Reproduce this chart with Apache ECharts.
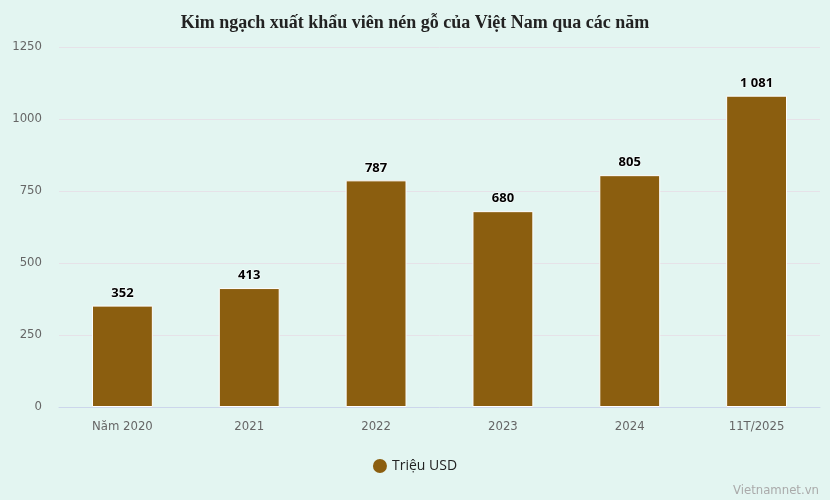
<!DOCTYPE html>
<html><head><meta charset="utf-8">
<script src="https://cdn.jsdelivr.net/npm/echarts@6/dist/echarts.min.js"></script>
<style>html,body{margin:0;padding:0;background:#e3f5f1}#c{width:830px;height:500px}</style>
</head><body><div id="c"></div>
<script>
const categories = ['Năm 2020','2021','2022','2023','2024','11T/2025'];
const values = [352, 413, 787, 680, 805, 1081];
const valueLabels = ['352','413','787','680','805','1 081'];
const yTicks = [0, 250, 500, 750, 1000, 1250];
const seriesName = 'Triệu USD';
const titleText = 'Kim ngạch xuất khẩu viên nén gỗ của Việt Nam qua các năm';

const chart = echarts.init(document.getElementById('c'));
chart.setOption({
  backgroundColor: '#e3f5f1',
  animation: false,
  title: {
    text: titleText, left: 'center', top: 9,
    textStyle: {fontFamily: 'Liberation Serif', fontWeight: 'bold', fontSize: 18, color: '#222'}
  },
  legend: {
    bottom: 22, left: 'center', icon: 'circle', itemWidth: 14, itemHeight: 14, itemGap: 10,
    itemStyle: {borderWidth: 0},
    textStyle: {fontFamily: 'Open Sans', fontSize: 14, color: '#222'},
    data: [seriesName]
  },
  graphic: [{type: 'text', right: 11, bottom: 3, style: {text: 'Vietnamnet.vn', fill: '#aaaaaa', font: '13px "DejaVu Sans Condensed", sans-serif'}}],
  grid: {left: 59, right: 10, top: 47, bottom: 93, containLabel: false},
  xAxis: {
    type: 'category', data: categories,
    axisLine: {lineStyle: {color: '#ccd6eb'}},
    axisTick: {show: false},
    axisLabel: {color: '#666', fontSize: 13, fontFamily: '"DejaVu Sans Condensed", sans-serif', margin: 13}
  },
  yAxis: {
    type: 'value', min: yTicks[0], max: yTicks[yTicks.length-1], interval: 250,
    axisLine: {show: false}, axisTick: {show: false},
    splitLine: {lineStyle: {color: '#e6e2e8'}},
    axisLabel: {color: '#666', fontSize: 13, fontFamily: '"DejaVu Sans Condensed", sans-serif', margin: 17,
      formatter: v => String(v)}
  },
  series: [{
    name: seriesName, type: 'bar', data: values, barWidth: '48%',
    itemStyle: {color: '#8b5e0f', borderColor: '#ffffff', borderWidth: 1},
    label: {
      show: true, position: 'top', distance: 6, color: '#000', fontWeight: 'bold', fontSize: 13,
      fontFamily: 'Open Sans',
      formatter: p => valueLabels[p.dataIndex],
      textBorderColor: '#fff', textBorderWidth: 1
    }
  }]
});
</script></body></html>
